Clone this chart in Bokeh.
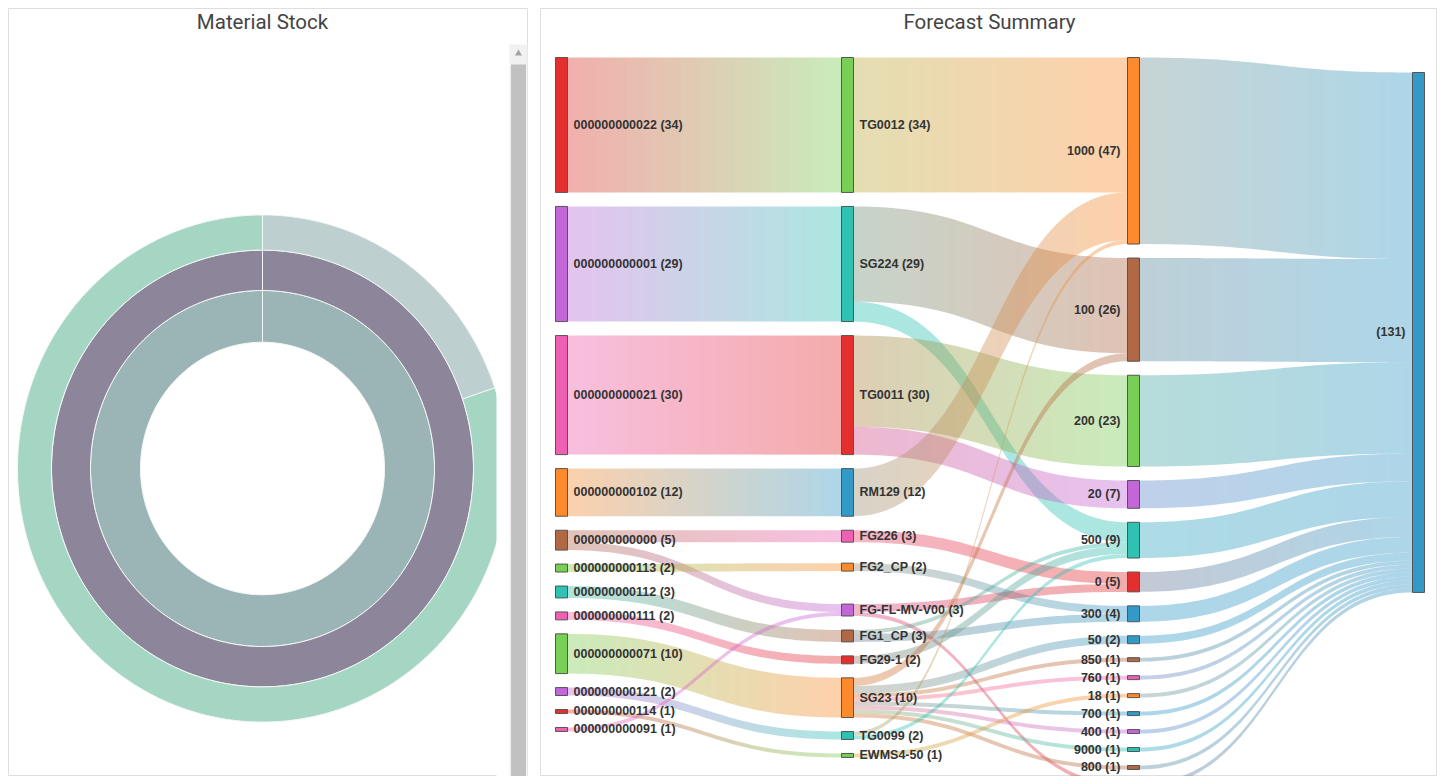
import numpy as np
from bokeh.plotting import figure
from bokeh.layouts import row, column
from bokeh.models import Range1d, Spacer
from bokeh.core.properties import value
from bokeh.embed import file_html
from bokeh.resources import INLINE

# ============================ DATA ============================
# Material Stock: three concentric rings (inner -> outer)
stock_inner = [1]
stock_middle = [1]
stock_outer = [26, 105]

# Forecast Summary: sankey columns
materials = ["000000000022", "000000000001", "000000000021", "000000000102",
             "000000000000", "000000000113", "000000000112", "000000000111",
             "000000000071", "000000000121", "000000000114", "000000000091"]
products = ["TG0012", "SG224", "TG0011", "RM129", "FG226", "FG2_CP",
            "FG-FL-MV-V00", "FG1_CP", "FG29-1", "SG23", "TG0099", "EWMS4-50"]
quantities = ["1000", "100", "200", "20", "500", "0", "300", "50",
              "850", "760", "18", "700", "400", "9000", "800", "10"]
total = [""]

# links material -> product
mp_source = ["000000000022", "000000000001", "000000000021", "000000000102",
             "000000000000", "000000000000", "000000000113", "000000000112",
             "000000000111", "000000000071", "000000000121", "000000000114",
             "000000000091"]
mp_target = ["TG0012", "SG224", "TG0011", "RM129", "FG226", "FG-FL-MV-V00",
             "FG2_CP", "FG1_CP", "FG29-1", "SG23", "TG0099", "EWMS4-50",
             "FG-FL-MV-V00"]
mp_value = [34, 29, 30, 12, 3, 2, 2, 3, 2, 10, 2, 1, 1]

# links product -> quantity
pq_source = ["TG0012", "SG224", "SG224", "TG0011", "TG0011", "RM129", "FG226",
             "FG2_CP", "FG-FL-MV-V00", "FG-FL-MV-V00", "FG1_CP", "FG1_CP",
             "FG29-1", "SG23", "SG23", "SG23", "SG23", "SG23", "SG23", "SG23",
             "SG23", "TG0099", "TG0099", "EWMS4-50"]
pq_target = ["1000", "100", "500", "200", "20", "1000", "0",
             "300", "0", "10", "300", "500",
             "500", "100", "50", "850", "760", "700", "400", "9000",
             "800", "1000", "500", "18"]
pq_value = [34, 24, 5, 23, 7, 12, 3, 2, 2, 1, 2, 1, 2, 2, 2, 1, 1, 1, 1, 1, 1, 1, 1, 1]

# links quantity -> total
qt_source = quantities
qt_target = [""] * len(quantities)
qt_value = [47, 26, 23, 7, 9, 5, 4, 2, 1, 1, 1, 1, 1, 1, 1, 1]

# ============================ STYLE / LAYOUT ============================
PAL = dict(red="#e3302f", purple="#c266d8", pink="#ee60b2", orange="#fd8a2c",
           brown="#b06845", green="#78cf55", teal="#2fc1b2", blue="#3399c6")
col_color_keys = [
    ["red", "purple", "pink", "orange", "brown", "green", "teal", "pink",
     "green", "purple", "red", "pink"],
    ["green", "teal", "red", "blue", "pink", "orange", "purple", "brown",
     "red", "orange", "teal", "green"],
    ["orange", "brown", "green", "purple", "teal", "red", "blue", "blue",
     "brown", "pink", "orange", "blue", "purple", "teal", "brown", "red"],
    ["blue"],
]
RING_COLORS = [["#9bb4b6"], ["#8d8599"], ["#bdcfcf", "#a5d6c4"]]

PAGE_TOP, PAGE_BOTTOM = 8, 776
LEFT_X0, LEFT_X1 = 8, 528
RIGHT_X0, RIGHT_X1 = 540, 1437

DONUT_C = (262, 468)
RING_R = [(122, 172), (172, 211), (211, 245)]
Y_STRETCH = 1.035

NODE_W = 12
COL_X = [555, 841, 1127, 1412]
SK_TOP = 57
K = 3.969         # px per unit
GAP = 14          # px between nodes
EXTRA_GAP = {(1, "FG2_CP"): 7, (1, "FG-FL-MV-V00"): 19, (3, ""): 15}
FLOW_ALPHA = 0.4
SLICE_PX = 6
PIX_OFF = 0.5

LABEL_FONT = value("Liberation Sans")
TITLE_FONT = value("Roboto")


def hex2rgb(h):
    h = h.lstrip("#")
    return np.array([int(h[i:i + 2], 16) for i in (0, 2, 4)], float)


def rgb2hex(c):
    return "#%02x%02x%02x" % tuple(int(round(v)) for v in c)


def base_fig(x0, x1):
    p = figure(width=x1 - x0, height=PAGE_BOTTOM - PAGE_TOP,
               x_range=Range1d(x0, x1), y_range=Range1d(PAGE_BOTTOM, PAGE_TOP),
               x_axis_type=None, y_axis_type=None, toolbar_location=None,
               output_backend="svg", min_border=0)
    p.outline_line_color = "#dedede"
    p.background_fill_color = "white"
    p.border_fill_color = "white"
    return p


# ============================ LEFT: Material Stock ============================
left = base_fig(LEFT_X0, LEFT_X1)
cx, cy = DONUT_C
rings = [stock_inner, stock_middle, stock_outer]
xs, ys, cols = [], [], []
for ring_vals, (r0, r1), ring_cols in zip(rings, RING_R, RING_COLORS):
    fr = np.cumsum([0] + list(ring_vals)) / float(sum(ring_vals))
    for i in range(len(ring_vals)):
        th = np.linspace(fr[i], fr[i + 1], 240) * 2 * np.pi
        xo = cx + r1 * np.sin(th)
        yo = cy - r1 * np.cos(th) * Y_STRETCH
        xi = cx + r0 * np.sin(th[::-1])
        yi = cy - r0 * np.cos(th[::-1]) * Y_STRETCH
        xs.append(np.concatenate([xo, xi]).tolist())
        ys.append(np.concatenate([yo, yi]).tolist())
        cols.append(ring_cols[i % len(ring_cols)])
left.patches(xs, ys, fill_color=cols, line_color="#f4f7f7", line_width=1)

# viewport mask + scrollbar (container chrome)
left.quad(left=[496], right=[509], top=[PAGE_TOP + 1], bottom=[PAGE_BOTTOM],
          fill_color="white", line_color=None)
left.quad(left=[509], right=[527], top=[44], bottom=[PAGE_BOTTOM],
          fill_color="#f1f1f1", line_color=None)
left.quad(left=[510.5], right=[525.5], top=[64], bottom=[PAGE_BOTTOM],
          fill_color="#c1c1c1", line_color=None)
left.scatter([518], [53], marker="triangle", size=7, fill_color="#a3a3a3",
             line_color=None)
left.text([262], [21], text=["Material Stock"], text_align="center",
          text_baseline="middle", text_font=TITLE_FONT, text_font_size="20.5px",
          text_color="#444444")

# ============================ RIGHT: Forecast Summary ============================
right = base_fig(RIGHT_X0, RIGHT_X1)
columns = [materials, products, quantities, total]
links = ([(0, s, t, v) for s, t, v in zip(mp_source, mp_target, mp_value)] +
         [(1, s, t, v) for s, t, v in zip(pq_source, pq_target, pq_value)] +
         [(2, s, t, v) for s, t, v in zip(qt_source, qt_target, qt_value)])

node_val, node_top, node_col = {}, {}, {}
for c, names in enumerate(columns):
    for i, n in enumerate(names):
        out_v = sum(v for (lc, s, t, v) in links if lc == c and s == n)
        in_v = sum(v for (lc, s, t, v) in links if lc == c - 1 and t == n)
        node_val[(c, n)] = max(out_v, in_v)
        node_col[(c, n)] = PAL[col_color_keys[c][i]]
    y = SK_TOP
    for n in names:
        y += EXTRA_GAP.get((c, n), 0)
        node_top[(c, n)] = y
        y += node_val[(c, n)] * K + GAP

# link end offsets
y0s, y1s = {}, {}
for c, names in enumerate(columns):
    for n in names:
        outs = [i for i, l in enumerate(links) if l[0] == c and l[1] == n]
        outs.sort(key=lambda i: node_top[(c + 1, links[i][2])])
        y = node_top[(c, n)]
        for i in outs:
            y0s[i] = y
            y += links[i][3] * K
        ins = [i for i, l in enumerate(links) if l[0] == c - 1 and l[2] == n]
        ins.sort(key=lambda i: node_top[(c - 1, links[i][1])])
        y = node_top[(c, n)]
        for i in ins:
            y1s[i] = y
            y += links[i][3] * K

fx, fy, fc = [], [], []
tt = np.linspace(0, 1, 4001)
GRAD_X0 = COL_X[0]
for i, (c, s, tg, v) in enumerate(links):
    x0 = COL_X[c] + NODE_W
    x1 = COL_X[c + 1]
    w = v * K
    bx = x0 * (1 - tt) ** 3 + (x0 + x1) / 2 * 3 * tt * (1 - tt) + x1 * tt ** 3
    X = np.arange(x0, x1, SLICE_PX, dtype=float) - PIX_OFF
    X[0] = x0
    X = np.append(X, float(x1))
    tX = np.interp(X, bx, tt)
    top = y0s[i] + (y1s[i] - y0s[i]) * (3 * tX ** 2 - 2 * tX ** 3)
    bot = top + w
    ca = hex2rgb(node_col[(c, s)])
    cb = hex2rgb(node_col[(c + 1, tg)])
    for j in range(len(X) - 1):
        f = ((X[j] + X[j + 1]) / 2 - GRAD_X0) / (x1 - GRAD_X0)
        fx.append([X[j], X[j + 1], X[j + 1], X[j]])
        fy.append([top[j], top[j + 1], bot[j + 1], bot[j]])
        fc.append(rgb2hex(ca * (1 - f) + cb * f))
right.patches(fx, fy, fill_color=fc, fill_alpha=FLOW_ALPHA, line_color=None)

# nodes
nl, nr, nt, nb, ncol = [], [], [], [], []
lab_l = dict(x=[], y=[], text=[])
lab_r = dict(x=[], y=[], text=[])
for c, names in enumerate(columns):
    for n in names:
        top = node_top[(c, n)]
        h = node_val[(c, n)] * K
        nl.append(COL_X[c]); nr.append(COL_X[c] + NODE_W)
        nt.append(top); nb.append(top + h); ncol.append(node_col[(c, n)])
        ymid = top + h / 2
        if ymid > PAGE_BOTTOM - 6:
            continue
        label = ("%s (%d)" % (n, node_val[(c, n)])).strip()
        if c < 2:
            lab_l["x"].append(COL_X[c] + NODE_W + 6)
            lab_l["y"].append(ymid)
            lab_l["text"].append(label)
        else:
            lab_r["x"].append(COL_X[c] - 7)
            lab_r["y"].append(ymid)
            lab_r["text"].append(label)
right.quad(left=nl, right=nr, top=nt, bottom=nb, fill_color=ncol,
           line_color="#555555", line_width=1)
right.text(lab_l["x"], lab_l["y"], text=lab_l["text"], text_align="left",
           text_baseline="middle", text_font=LABEL_FONT, text_font_size="12.5px",
           text_font_style="bold", text_color="#333333")
right.text(lab_r["x"], lab_r["y"], text=lab_r["text"], text_align="right",
           text_baseline="middle", text_font=LABEL_FONT, text_font_size="12.5px",
           text_font_style="bold", text_color="#333333")
right.text([989], [21], text=["Forecast Summary"], text_align="center",
           text_baseline="middle", text_font=TITLE_FONT, text_font_size="20.5px",
           text_color="#444444")

layout = column(Spacer(height=PAGE_TOP),
                row(Spacer(width=LEFT_X0), left, Spacer(width=RIGHT_X0 - LEFT_X1), right))
open("out.html", "w").write(file_html(layout, INLINE))
